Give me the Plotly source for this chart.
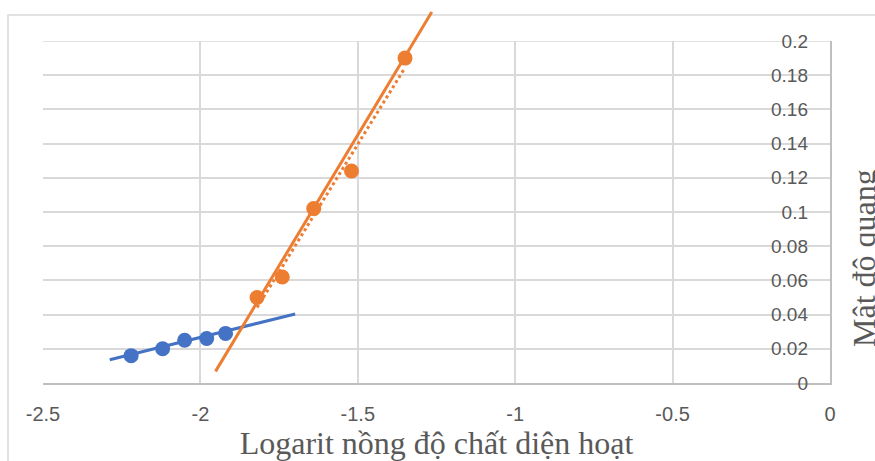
import numpy as np
import plotly.graph_objects as go

# ---- data ----
blue_x = [-2.22, -2.12, -2.05, -1.98, -1.92]
blue_y = [0.016, 0.020, 0.025, 0.026, 0.029]
orange_x = [-1.82, -1.74, -1.64, -1.52, -1.35]
orange_y = [0.050, 0.062, 0.102, 0.124, 0.190]

# hand-drawn straight lines (end points)
blue_line_x = [-2.288, -1.699]
blue_line_y = [0.0136, 0.0404]
orange_line_x = [-1.952, -1.265]
orange_line_y = [0.0068, 0.217]

x_ticks = [-2.5, -2, -1.5, -1, -0.5, 0]
x_ticktext = ["-2.5", "-2", "-1.5", "-1", "-0.5", "0"]
y_ticks = [0, 0.02, 0.04, 0.06, 0.08, 0.1, 0.12, 0.14, 0.16, 0.18, 0.2]
y_ticktext = ["0", "0.02", "0.04", "0.06", "0.08", "0.1", "0.12", "0.14", "0.16", "0.18", "0.2"]

x_title = "Logarit nồng độ chất diện hoạt"
y_title = "Mật độ quang"

BLUE = "#4472C4"
ORANGE = "#ED7D31"
GRID = "#D9D9D9"
TXT = "#595959"

# linear trendline (Excel default dotted) for orange series
k, b0 = np.polyfit(orange_x, orange_y, 1)
trend_x = np.array([min(orange_x), max(orange_x)])
trend_y = k * trend_x + b0

W, H = 875, 461
ML, MR, MT, MB = 43, 45, 10, 78
plot_top_px = 41
paper_h = H - MT - MB
paper_w = W - ML - MR
dom_top = (H - MB - plot_top_px) / paper_h
x_range = [-2.5, 0]
y_max = 0.2
y2_max = y_max / dom_top

fig = go.Figure()

fig.add_trace(go.Scatter(x=trend_x, y=trend_y, mode="lines",
                         line=dict(color=ORANGE, width=3, dash="dot"),
                         showlegend=False, hoverinfo="skip"))
fig.add_trace(go.Scatter(x=blue_line_x, y=blue_line_y, mode="lines",
                         line=dict(color=BLUE, width=3),
                         showlegend=False, hoverinfo="skip"))
fig.add_trace(go.Scatter(x=blue_x, y=blue_y, mode="markers",
                         marker=dict(color=BLUE, size=15),
                         showlegend=False))
fig.add_trace(go.Scatter(x=orange_x, y=orange_y, mode="markers",
                         marker=dict(color=ORANGE, size=15),
                         showlegend=False))
# the long solid orange line reaches above the plot area -> taller twin axes
fig.add_trace(go.Scatter(x=orange_line_x, y=orange_line_y, mode="lines",
                         line=dict(color=ORANGE, width=3),
                         xaxis="x2", yaxis="y2",
                         showlegend=False, hoverinfo="skip"))
# carrier trace for the tick-label axis (invisible)
fig.add_trace(go.Scatter(x=[None], y=[None], yaxis="y3",
                         showlegend=False, hoverinfo="skip"))

fig.update_layout(
    width=W, height=H,
    margin=dict(l=ML, r=MR, t=MT, b=MB, pad=0, autoexpand=False),
    paper_bgcolor="white",
    plot_bgcolor="rgba(0,0,0,0)",
    xaxis=dict(
        range=x_range, tickvals=x_ticks, ticktext=x_ticktext,
        showgrid=True, gridcolor=GRID, gridwidth=1.5,
        zeroline=False, showline=True, linecolor="#BFBFBF", linewidth=1.5,
        ticks="", ticklabelstandoff=12, automargin=False,
        tickfont=dict(family="Liberation Sans", size=20, color=TXT), anchor="y",
        title=dict(text=x_title, standoff=6,
                   font=dict(family="Liberation Serif", size=32, color=TXT)),
    ),
    yaxis=dict(
        range=[0, y_max], domain=[0, dom_top],
        tickvals=y_ticks, showticklabels=False,
        side="right", automargin=False,
        showgrid=True, gridcolor=GRID, gridwidth=1.5,
        zeroline=False, showline=True, linecolor="#BFBFBF", linewidth=1.5,
        ticks="", anchor="x",
    ),
    xaxis2=dict(
        range=x_range, domain=[0, 1], anchor="y2",
        visible=False, showgrid=False, zeroline=False, automargin=False,
    ),
    yaxis2=dict(
        range=[0, y2_max], domain=[0, 1], anchor="x2",
        visible=False, showgrid=False, zeroline=False, automargin=False,
    ),
    yaxis3=dict(
        range=[0, y_max], overlaying="y", side="left",
        anchor="free", position=1.0, automargin=False,
        tickvals=y_ticks, ticktext=y_ticktext,
        showgrid=False, zeroline=False, showline=False, ticks="",
        ticklabelstandoff=22,
        tickfont=dict(family="Liberation Sans", size=19, color=TXT),
    ),
    shapes=[
        dict(type="rect", xref="paper", yref="paper",
             x0=(8 - ML) / paper_w, x1=1.2,
             y0=-0.5, y1=(H - MB - 15) / paper_h,
             line=dict(color=GRID, width=1.5), layer="below"),
        dict(type="line", xref="paper", yref="y", x0=0, x1=1,
             y0=y_max, y1=y_max, line=dict(color=GRID, width=1.5),
             layer="below"),
    ],
    annotations=[dict(text=y_title, xref="paper", yref="paper",
                      x=(844 - ML) / paper_w, y=(H - MB - 258) / paper_h,
                      xanchor="left", yanchor="middle", textangle=-90,
                      showarrow=False,
                      font=dict(family="Liberation Serif", size=32, color=TXT))],
)

fig.write_html("out.html", config={"displayModeBar": False},
               post_script="document.body.style.margin='0';")
